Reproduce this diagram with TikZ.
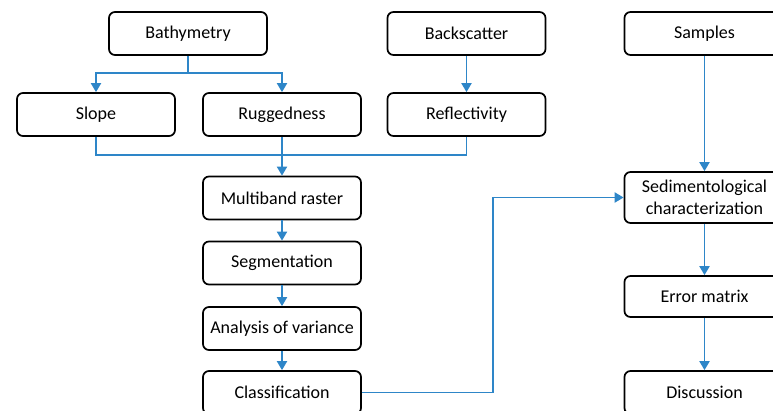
\documentclass[tikz,border=0pt]{standalone}
\usepackage{fontspec}
\setmainfont{Carlito}
\usetikzlibrary{arrows.meta}
\definecolor{flowblue}{HTML}{2E86C8}
\begin{document}
\begin{tikzpicture}[x=1pt,y=-1pt,
  box/.style={draw=black, line width=1.7pt, rounded corners=6pt, fill=white,
    minimum width=158pt, minimum height=43pt, inner sep=0pt,
    font=\fontsize{18}{22}\selectfont, align=center},
  link/.style={draw=flowblue, line width=1.9pt},
  flow/.style={link, -{Triangle[width=10pt,length=9pt]}}]
\useasboundingbox (0,0) rectangle (773,410);
\clip (0,0) rectangle (773,410);

% inputs
\node[box] (bathy) at (188,33.5) {Bathymetry};
\node[box] (backs) at (466.5,33.5) {Backscatter};
\node[box, minimum width=160pt] (samples) at (704.5,33.5) {Samples};

% derived layers
\node[box] (slope) at (96,114.5) {Slope};
\node[box] (rugged) at (282,114.5) {Ruggedness};
\node[box] (refl) at (466.5,114.5) {Reflectivity};

% processing chain
\node[box] (multi) at (282,198) {Multiband raster};
\node[box] (seg) at (282,263) {Segmentation};
\node[box] (anova) at (282,328.5) {Analysis of variance};
\node[box] (class) at (282,392.5) {Classification};

% validation chain
\node[box, minimum width=160pt, minimum height=51pt] (sedi) at (704.5,197.5) {Sedimentological\\characterization};
\node[box, minimum width=160pt, minimum height=41pt] (error) at (704.5,296.5) {Error matrix};
\node[box, minimum width=160pt] (disc) at (704.5,392.5) {Discussion};

% connectors
\coordinate (bsplit) at (188,73);
\draw[link] (bathy.south) -- (bsplit);
\draw[flow] (bsplit) -| (slope.north);
\draw[flow] (bsplit) -| (rugged.north);
\draw[flow] (backs.south) -- (refl.north);

\coordinate (merge) at (282,155);
\draw[link] (slope.south) |- (merge) -| (refl.south);
\draw[flow] (rugged.south) -- (multi.north);
\draw[flow] (multi.south) -- (seg.north);
\draw[flow] (seg.south) -- (anova.north);
\draw[flow] (anova.south) -- (class.north);

\path (class.east) ++(131,0) coordinate (turn);
\draw[flow] (class.east) -- (turn) |- (sedi.west);

\draw[flow] (samples.south) -- (sedi.north);
\draw[flow] (sedi.south) -- (error.north);
\draw[flow] (error.south) -- (disc.north);
\end{tikzpicture}
\end{document}
